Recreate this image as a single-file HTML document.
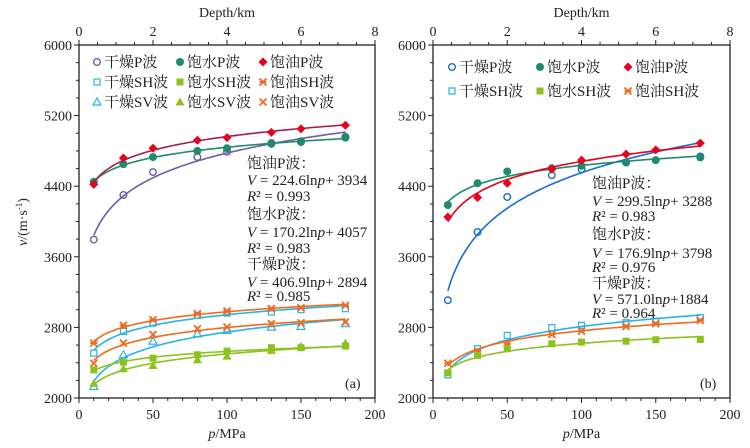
<!DOCTYPE html>
<html><head><meta charset="utf-8"><style>
body{margin:0;background:#fff;width:750px;height:443px;overflow:hidden}
svg text{font-family:"Liberation Serif","Noto Serif CJK SC",serif;fill:#222}
</style></head><body>
<svg id="chart" width="750" height="443" xmlns="http://www.w3.org/2000/svg"></svg>
<script>
const pressures=[10,30,50,80,100,130,150,180];
const yTicks=[2000,2800,3600,4400,5200,6000];
const xTicks=[0,50,100,150,200];
const depthTicks=[0,2,4,6,8];
// panel a
const aDryP=[3795,4300,4560,4730,4790,4890,4900,4960];
const aSatP=[4450,4650,4730,4800,4830,4880,4910,4950];
const aOilP=[4420,4720,4830,4920,4950,5010,5050,5090];
const aDrySH=[2508,2755,2849,2936,2962,2974,3001,3012];
const aSatSH=[2319,2406,2451,2490,2531,2570,2570,2588];
const aOilSH=[2622,2823,2887,2955,2985,3012,3023,3050];
const aDrySV=[2130,2490,2644,2728,2766,2803,2811,2842];
const aSatSV=[2167,2331,2368,2433,2474,2539,2584,2622];
const aOilSV=[2394,2622,2720,2785,2803,2842,2853,2860];
// panel b
const bDryPx=[10,30,50,80,100,130,180];
const bDryP=[3108,3881,4278,4525,4593,4669,4737];
const bSatP=[4187,4434,4567,4604,4631,4669,4695,4726];
const bOilP=[4051,4272,4434,4593,4695,4764,4812,4888];
const bDrySH=[2263,2558,2709,2797,2823,2853,2870,2910];
const bSatSH=[2285,2482,2558,2615,2633,2644,2660,2664];
const bOilSH=[2394,2531,2615,2720,2758,2811,2842,2880];

const svg=document.getElementById('chart');
const NS='http://www.w3.org/2000/svg';
function mk(tag,attrs,parent){const e=document.createElementNS(NS,tag);for(const k in attrs)e.setAttribute(k,attrs[k]);(parent||svg).appendChild(e);return e;}
const Y0=398,Y1=45;
function ys(v){return Y0-(v-2000)/4000*(Y0-Y1);}
function lnfit(xs,vs){const n=xs.length;let sx=0,sy=0,sxx=0,sxy=0;xs.forEach((x,i)=>{const l=Math.log(x);sx+=l;sy+=vs[i];sxx+=l*l;sxy+=l*vs[i];});const a=(n*sxy-sx*sy)/(n*sxx-sx*sx);return [a,(sy-a*sx)/n];}

function marker(g,type,x,y,c){
  if(type==='oc')mk('circle',{cx:x,cy:y,r:3.3,fill:'none',stroke:c,'stroke-width':1.4},g);
  else if(type==='fc')mk('circle',{cx:x,cy:y,r:4,fill:c},g);
  else if(type==='d')mk('polygon',{points:`${x},${y-4.5} ${x+4.5},${y} ${x},${y+4.5} ${x-4.5},${y}`,fill:c},g);
  else if(type==='os')mk('rect',{x:x-3,y:y-3,width:6,height:6,fill:'none',stroke:c,'stroke-width':1.2},g);
  else if(type==='fs')mk('rect',{x:x-3.5,y:y-3.5,width:7,height:7,fill:c},g);
  else if(type==='ot')mk('polygon',{points:`${x},${y-4} ${x+4},${y+3} ${x-4},${y+3}`,fill:'none',stroke:c,'stroke-width':1.2},g);
  else if(type==='ft')mk('polygon',{points:`${x},${y-4.5} ${x+4.5},${y+3.5} ${x-4.5},${y+3.5}`,fill:c},g);
  else if(type==='x'){mk('path',{d:`M${x-3.5},${y-3.5}L${x+3.5},${y+3.5}M${x+3.5},${y-3.5}L${x-3.5},${y+3.5}`,stroke:c,'stroke-width':1.8},g);}
  else if(type==='xs'){mk('path',{d:`M${x-3.5},${y-3.5}L${x+3.5},${y+3.5}M${x+3.5},${y-3.5}L${x-3.5},${y+3.5}M${x-3.5},${y}L${x+3.5},${y}`,stroke:c,'stroke-width':1.8},g);}
}

function panel(id,X0,X1,series,legend,lgx,lgdx,lgy,lgdy,eqs,eqX,label){
  const g=mk('g',{});
  
  
  const xs=p=>X0+p/200*(X1-X0);
  series.forEach(s=>{
    const px=s.px||pressures;
    const [a,b]=lnfit(px,s.v);
    let d='';for(let p=10;p<=180.01;p+=2){d+=(p===10?'M':'L')+xs(p).toFixed(1)+','+ys(a*Math.log(p)+b).toFixed(1);}
    const l=mk('path',{d:d,fill:'none',stroke:s.lc||s.c,'stroke-width':1.6},g);
    
    
    const mg=mk('g',{},g);
    
    
    px.forEach((p,i)=>marker(mg,s.m,xs(p),ys(s.v[i]),s.c));
  });
  const box=mk('rect',{x:X0,y:Y1,width:X1-X0,height:Y0-Y1,fill:'none',stroke:'#222','stroke-width':1.3},g);
  
  
  for(let v=2000;v<=6000;v+=200){const y=ys(v);const major=yTicks.includes(v);mk('line',{x1:X0-(major?5:3),x2:X0,y1:y,y2:y,stroke:'#222','stroke-width':1},g);}
  yTicks.forEach(v=>{const t=mk('text',{x:X0-7,y:ys(v)+5,'text-anchor':'end','font-size':14},g);t.textContent=v;
    });
  for(let p=0;p<=200;p+=10){const x=xs(p);const major=p%50===0;mk('line',{x1:x,x2:x,y1:Y0,y2:Y0+(major?5:3),stroke:'#222','stroke-width':1},g);}
  xTicks.forEach(p=>{const t=mk('text',{x:xs(p),y:Y0+21,'text-anchor':'middle','font-size':14},g);t.textContent=p;
    });
  for(let d=0;d<=8;d+=0.5){const x=X0+d/8*(X1-X0);const major=d%2===0;mk('line',{x1:x,x2:x,y1:Y1,y2:Y1-(major?5:3),stroke:'#222','stroke-width':1},g);}
  depthTicks.forEach(d=>{const t=mk('text',{x:X0+d/8*(X1-X0),y:Y1-9,'text-anchor':'middle','font-size':14},g);t.textContent=d;
    });
  const dt=mk('text',{x:(X0+X1)/2,y:17,'text-anchor':'middle','font-size':14},g);dt.textContent='Depth/km';
  
  const xt=mk('text',{x:(X0+X1)/2,y:Y0+40,'text-anchor':'middle','font-size':14},g);
  xt.innerHTML='<tspan font-style="italic">p</tspan>/MPa';
  
  legend.forEach((row,r)=>row.forEach((it,c)=>{
    const lx=X0+lgx+c*lgdx,ly=lgy+r*lgdy;
    const lg=mk('g',{},g);
    
    
    marker(lg,it.m,lx,ly,it.c);
    const t=mk('text',{x:lx+7,y:ly+5,'font-size':15},lg);t.textContent=it.t;
  }));
  const eg=mk('g',{},g);
  
  
  eqs.forEach((e,i)=>{const t=mk('text',{x:eqX,y:e[0],'font-size':15},eg);t.innerHTML=e[1];});
  const lb=mk('text',{x:X1-30,y:Y0-10,'font-size':14},g);lb.textContent=label;
  
}
const cPur='#6b5fa6',cTeal='#1f8a6c',cRed='#e8001c',cMag='#9e1f50',cCyan='#27b4e6',cGrn='#8cc21e',cOra='#f26a1e',cBlue='#1a6cd0';
const V='<tspan font-style="italic">V</tspan>',P='<tspan font-style="italic">p</tspan>',R='<tspan font-style="italic">R</tspan>';
panel('a',79,375,[
 {name:'dry-sh',v:aDrySH,c:cCyan,m:'os'},{name:'oil-sh',v:aOilSH,c:cOra,m:'xs'},
 {name:'dry-sv',v:aDrySV,c:cCyan,m:'ot'},{name:'oil-sv',v:aOilSV,c:cOra,m:'x'},
 {name:'sat-sh',v:aSatSH,c:cGrn,m:'fs'},{name:'sat-sv',v:aSatSV,c:cGrn,m:'ft'},
 {name:'dry-p',v:aDryP,c:cPur,m:'oc'},{name:'sat-p',v:aSatP,c:cTeal,m:'fc'},{name:'oil-p',v:aOilP,c:cRed,lc:cMag,m:'d'}
],[[{m:'oc',c:cPur,t:'干燥P波'},{m:'fc',c:cTeal,t:'饱水P波'},{m:'d',c:cRed,t:'饱油P波'}],
   [{m:'os',c:cCyan,t:'干燥SH波'},{m:'fs',c:cGrn,t:'饱水SH波'},{m:'xs',c:cOra,t:'饱油SH波'}],
   [{m:'ot',c:cCyan,t:'干燥SV波'},{m:'ft',c:cGrn,t:'饱水SV波'},{m:'x',c:cOra,t:'饱油SV波'}]],
 18,83,62,20,
 [[168,'饱油P波：'],[185,V+' = 224.6ln'+P+'+ 3934'],[201,R+'² = 0.993'],
  [219,'饱水P波：'],[237,V+' = 170.2ln'+P+'+ 4057'],[253,R+'² = 0.983'],
  [269,'干燥P波：'],[287,V+' = 406.9ln'+P+'+ 2894'],[301,R+'² = 0.985']],247,'(a)');
panel('b',433,730,[
 {name:'dry-sh',v:bDrySH,c:cCyan,m:'os'},{name:'oil-sh',v:bOilSH,c:cOra,m:'xs'},{name:'sat-sh',v:bSatSH,c:cGrn,m:'fs'},
 {name:'dry-p',v:bDryP,px:bDryPx,c:cBlue,m:'oc'},{name:'sat-p',v:bSatP,c:cTeal,m:'fc'},{name:'oil-p',v:bOilP,c:cRed,m:'d'}
],[[{m:'oc',c:cBlue,t:'干燥P波'},{m:'fc',c:cTeal,t:'饱水P波'},{m:'d',c:cRed,t:'饱油P波'}],
   [{m:'os',c:cCyan,t:'干燥SH波'},{m:'fs',c:cGrn,t:'饱水SH波'},{m:'xs',c:cOra,t:'饱油SH波'}]],
 19,88,67,24,
 [[188,'饱油P波：'],[206,V+' = 299.5ln'+P+'+ 3288'],[221,R+'² = 0.983'],
  [239,'饱水P波：'],[258,V+' = 176.9ln'+P+'+ 3798'],[272,R+'² = 0.976'],
  [288,'干燥P波：'],[304,V+' = 571.0ln'+P+'+1884'],[318,R+'² = 0.964']],592,'(b)');
const yt=mk('text',{x:0,y:0,'text-anchor':'middle','font-size':14,transform:'translate(27,222) rotate(-90)'});
yt.innerHTML='<tspan font-style="italic">v</tspan>/(m·s<tspan font-size="9" dy="-5">-1</tspan><tspan dy="5">)</tspan>';


</script>
</body></html>
